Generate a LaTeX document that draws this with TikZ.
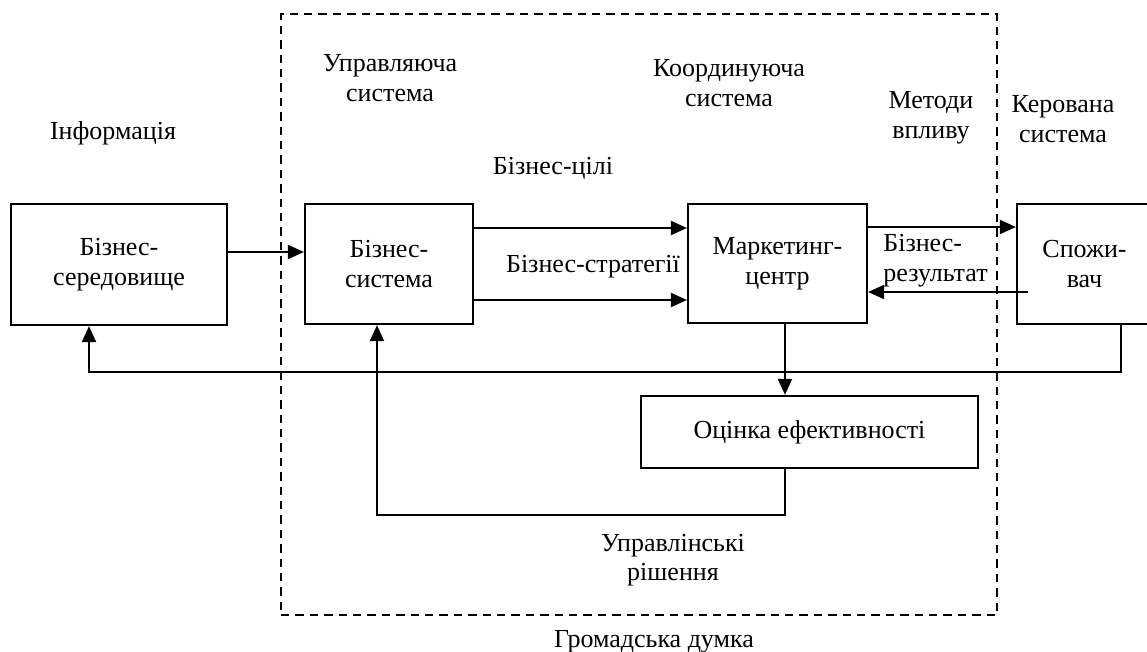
\documentclass[tikz,border=0pt]{standalone}
\usepackage{fontspec}
\setmainfont{Liberation Serif}
\usetikzlibrary{arrows.meta}
\begin{document}
\begin{tikzpicture}[x=0.5pt,y=-0.5pt,
  every node/.style={font=\fontsize{13pt}{15pt}\selectfont, inner sep=0pt},
  box/.style={draw, line width=1.1pt, align=center},
  sysframe/.style={draw, line width=1pt, dash pattern=on 4.2pt off 3pt},
  conn/.style={line width=1pt},
  arr/.style={conn, -{Triangle[length=8pt,width=7pt]}},
  lbl/.style={anchor=base, align=center},
  lblleft/.style={anchor=base west, align=left}]
\fill[white] (0,0) rectangle (1147,652);
\useasboundingbox (0,0) rectangle (1147,652);

% dashed frame
\node[sysframe, minimum width=358pt, minimum height=300.5pt] (sys) at (639,314.5) {};

% boxes
\node[box, minimum width=108pt, minimum height=60.5pt] (b1) at (119,264.5) {Бізнес-\\середовище};
\node[box, minimum width=84pt, minimum height=60pt] (b2) at (389,264) {Бізнес-\\система};
\node[box, minimum width=89.5pt, minimum height=59.5pt] (b3) at (777.5,263.5) {Маркетинг-\\центр};
\node[box, minimum width=67.5pt, minimum height=60pt] (b4) at (1084.5,264) {Спожи-\\вач};
\node[box, minimum width=168.5pt, minimum height=36pt] (ev) at (809.5,432) {Оцінка ефективності};

% labels (base anchor = baseline of the last line)
\node[lbl] (info) at (113,140) {Інформація};
\node[lbl] (upr) at (390,102) {Управляюча\\система};
\node[lbl] (koord) at (729,107) {Координуюча\\система};
\node[lbl] (met) at (931,139) {Методи\\впливу};
\node[lbl] (ker) at (1063,143) {Керована\\система};
\node[lbl] (cili) at (553,175) {Бізнес-цілі};
\node[lbl] (strat) at (593,273) {Бізнес-стратегії};
\node[lblleft] (res) at (883,282) {Бізнес-\\результат};
\node[lbl] (rish) at (673,581) {Управлінські\\рішення};
\node[lbl] (hrom) at (654,647) {Громадська думка};

% helper coordinates
\coordinate (r252) at (0,252);
\coordinate (r228) at (0,228);
\coordinate (r300) at (0,300);
\coordinate (r227) at (0,227);
\coordinate (r292) at (0,292);
\coordinate (fb) at (0,372);
\coordinate (lp) at (0,515);
\coordinate (c89) at (89,0);
\coordinate (c1121) at (1121,0);
\coordinate (c377) at (377,0);
\coordinate (c785) at (785,0);
\coordinate (c1028) at (1028,0);

% connectors
\draw[arr] (b1.east |- r252) -- (b2.west |- r252);
\draw[arr] (b2.east |- r228) -- (b3.west |- r228);
\draw[arr] (b2.east |- r300) -- (b3.west |- r300);
\draw[arr] (b3.east |- r227) -- (b4.west |- r227);
\draw[arr] (c1028 |- r292) -- (b3.east |- r292);
\draw[arr] (c1121 |- b4.south) -- (c1121 |- fb) -- (c89 |- fb) -- (c89 |- b1.south);
\draw[arr] (c785 |- b3.south) -- (c785 |- ev.north);
\draw[arr] (c785 |- ev.south) -- (c785 |- lp) -- (c377 |- lp) -- (c377 |- b2.south);
\end{tikzpicture}
\end{document}
